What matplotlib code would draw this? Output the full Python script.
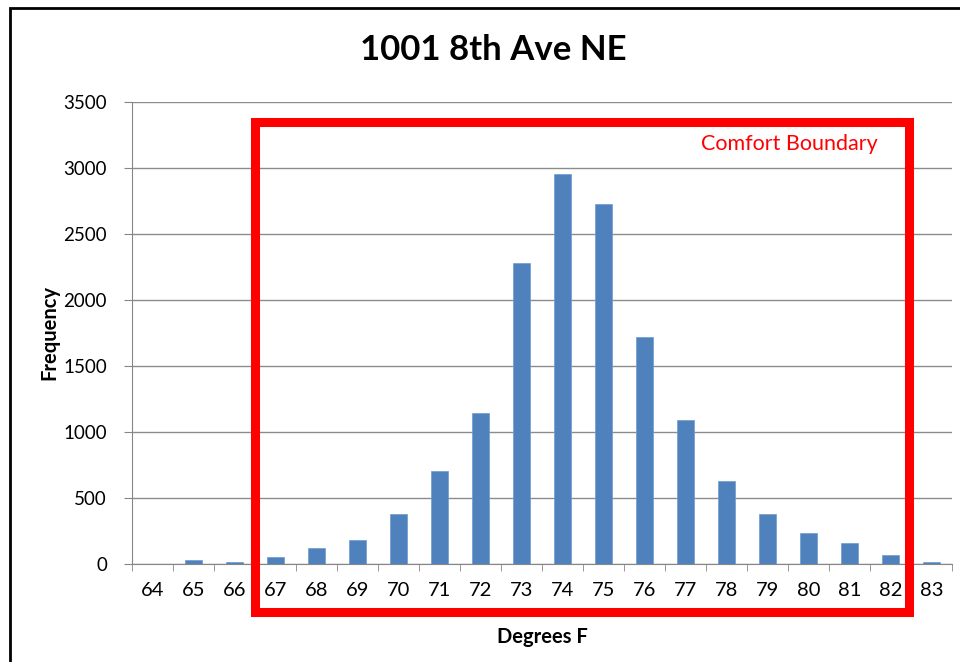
import numpy as np
import matplotlib
matplotlib.use('Agg')
from matplotlib import pyplot as plt
from matplotlib.patches import Rectangle

# degrees F and how many readings fell in each bin
degrees = [64, 65, 66, 67, 68, 69, 70, 71, 72, 73,
           74, 75, 76, 77, 78, 79, 80, 81, 82, 83]
frequency = [0, 30, 18, 55, 119, 182, 378, 704, 1144, 2280,
             2955, 2727, 1720, 1091, 629, 378, 232, 157, 66, 17]
y_ticks = [0, 500, 1000, 1500, 2000, 2500, 3000, 3500]
comfort_low, comfort_high = 66.5, 82.45

plt.rcParams['font.family'] = ['Lato', 'DejaVu Sans']

fig = plt.figure(figsize=(9.6, 6.62), dpi=100)
ax = fig.add_axes([132 / 960, 1 - 564 / 662, 820 / 960, 462 / 662])

ax.bar(degrees, frequency, width=0.41, color='#4f81bd', edgecolor='#6f9bd0', linewidth=0.5, zorder=3)

ax.set_xlim(63.5, 83.5)
ax.set_ylim(0, 3500)
ax.set_yticks(y_ticks)
ax.set_xticks(degrees)
ax.set_xticks(np.arange(63.5, 84, 1), minor=True)
ax.tick_params(axis='x', which='major', length=0, pad=13, labelsize=14.5)
ax.tick_params(axis='x', which='minor', length=5, color='#868686', direction='out')
ax.tick_params(axis='y', length=6, color='#868686', labelsize=13.5, pad=12)
ax.grid(axis='y', color='#8c8c8c', linewidth=1.0, zorder=0)
for s in ['top', 'right']:
    ax.spines[s].set_visible(False)
ax.spines['left'].set_color('#868686')
ax.spines['bottom'].set_color('#868686')

ax.set_xlabel('Degrees F', fontsize=14.5, fontweight='bold', labelpad=20)
ax.set_ylabel('Frequency', fontsize=14.5, fontweight='bold', labelpad=3)
fig.text(493 / 960, 1 - 50 / 662, '1001 8th Ave NE', ha='center', va='center',
         fontsize=25, fontweight='bold')

# comfort boundary box
ax.add_patch(Rectangle((comfort_low, -364), comfort_high - comfort_low, 3348 + 364,
                       fill=False, edgecolor='#ff0000', linewidth=6.5, clip_on=False, zorder=4))
ax.text(81.7, 3180, 'Comfort Boundary', color='#ff0000', fontsize=15.5, ha='right', va='center')

# chart border
fig.add_artist(Rectangle((10 / 960, -0.1), 1.2, 1 - 8 / 662 + 0.1, transform=fig.transFigure,
                         fill=False, edgecolor='black', linewidth=2))

fig.savefig('out.png', dpi=100)
